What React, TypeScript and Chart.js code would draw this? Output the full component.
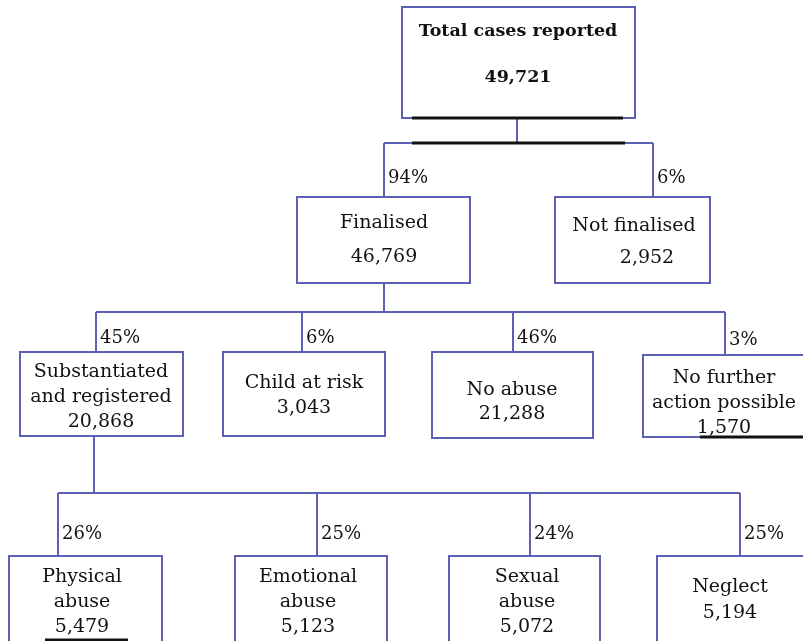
import React, { useEffect, useRef } from "react";
import { Chart, registerables } from "chart.js";

Chart.register(...registerables);

// ---- data ----
const nodeLabels = [
  "Total cases reported",
  "Finalised",
  "Not finalised",
  "Substantiated\nand registered",
  "Child at risk",
  "No abuse",
  "No further\naction possible",
  "Physical\nabuse",
  "Emotional\nabuse",
  "Sexual\nabuse",
  "Neglect",
];
const nodeValues = [49721, 46769, 2952, 20868, 3043, 21288, 1570, 5479, 5123, 5072, 5194];
const nodePercents = [null, 94, 6, 45, 6, 46, 3, 26, 25, 24, 25];
const nodeParents = [-1, 0, 0, 1, 1, 1, 1, 3, 3, 3, 3];

// ---- layout (pixel-unit scale coordinates) ----
// box: [x1, y1, x2, y2]
const boxLayout = [
  [402, 7, 635, 118],
  [297, 197, 470, 283],
  [555, 197, 710, 283],
  [20, 352, 183, 436],
  [223, 352, 385, 436],
  [432, 352, 593, 438],
  [643, 355, 815, 437],
  [9, 556, 162, 650],
  [235, 556, 387, 650],
  [449, 556, 600, 650],
  [657, 556, 815, 650],
];
// text line centres [x, y0, lineStep, valueXShift]
const textLayout = [
  [518, 31, 46, 0],
  [384, 223, 34, 0],
  [634, 226, 32, 13],
  [101, 372, 25, 0],
  [304, 383, 25, 0],
  [512, 390, 24, 0],
  [724, 378, 25, 0],
  [82, 577, 25, 0],
  [308, 577, 25, 0],
  [527, 577, 25, 0],
  [730, 587, 26, 0],
];
// connector x where each child meets its bus
const connectorX = [517, 384, 653, 96, 302, 513, 725, 58, 317, 530, 740];
// bus y below each parent (by parent index)
const busY: Record<number, number> = { 0: 143, 1: 312, 3: 493 };
// parent drop x
const dropX: Record<number, number> = { 0: 517, 1: 384, 3: 94 };

const BLUE = "#5b5fb3";
const FONT = "'DejaVu Serif', serif";

function fmt(n: number) {
  return n.toLocaleString("en-US");
}

const darkMarks = [
  [412, 118, 623],
  [412, 143, 625],
  [700, 437, 803],
  [45, 640, 128],
];

function buildDatasets() {
  const ds: any[] = [];
  const line = (pts: [number, number][], color = BLUE, width = 2) =>
    ds.push({
      data: pts.map(([x, y]) => ({ x, y })),
      showLine: true,
      borderColor: color,
      borderWidth: width,
      pointRadius: 0,
      fill: false,
    });
  const parents = Array.from(new Set(nodeParents.filter((p) => p >= 0)));
  parents.forEach((p) => {
    const kids = nodeParents.map((q, i) => (q === p ? i : -1)).filter((i) => i >= 0);
    const by = busY[p];
    line([[dropX[p], boxLayout[p][3]], [dropX[p], by]]);
    const xs = kids.map((k) => connectorX[k]);
    line([[Math.min(...xs), by], [Math.max(...xs), by]]);
    kids.forEach((k) => line([[connectorX[k], by], [connectorX[k], boxLayout[k][1]]]));
  });
  return ds;
}

const treePlugin = {
  id: "tree",
  afterDatasetsDraw(chart: any) {
    const { ctx, scales } = chart;
    const X = (v: number) => scales.x.getPixelForValue(v);
    const Y = (v: number) => scales.y.getPixelForValue(v);
    ctx.save();
    nodeLabels.forEach((label, i) => {
      const [x1, y1, x2, y2] = boxLayout[i];
      ctx.fillStyle = "#fff";
      ctx.fillRect(X(x1), Y(y1), X(x2) - X(x1), Y(y2) - Y(y1));
      ctx.strokeStyle = BLUE;
      ctx.lineWidth = 2;
      ctx.strokeRect(X(x1), Y(y1), X(x2) - X(x1), Y(y2) - Y(y1));
    });
    ctx.strokeStyle = "#111";
    ctx.lineWidth = 3;
    darkMarks.forEach(([a, y, b]) => {
      ctx.beginPath();
      ctx.moveTo(X(a), Y(y));
      ctx.lineTo(X(b), Y(y));
      ctx.stroke();
    });
    ctx.fillStyle = "#111";
    ctx.textAlign = "center";
    ctx.textBaseline = "middle";
    nodeLabels.forEach((label, i) => {
      const [tx, ty, step, vs] = textLayout[i];
      const lines = [...label.split("\n"), fmt(nodeValues[i])];
      ctx.font = i === 0 ? `bold 17.5px ${FONT}` : `19px ${FONT}`;
      lines.forEach((l, j) =>
        ctx.fillText(l, X(tx + (j === lines.length - 1 ? vs : 0)), Y(ty + j * step))
      );
    });
    ctx.textAlign = "left";
    ctx.font = `18px ${FONT}`;
    nodePercents.forEach((p, i) => {
      if (p == null) return;
      const par = nodeParents[i];
      const by = busY[par];
      const top = boxLayout[i][1];
      const y = by + (top - by) * 0.66;
      ctx.fillText(`${p}%`, X(connectorX[i] + 4), Y(y));
    });
    ctx.restore();
  },
};

export default function App() {
  const ref = useRef<HTMLCanvasElement>(null);
  useEffect(() => {
    document.body.style.margin = "0";
    const chart = new Chart(ref.current!, {
      type: "scatter",
      data: { datasets: buildDatasets() },
      options: {
        animation: false,
        responsive: false,
        maintainAspectRatio: false,
        layout: { padding: 0 },
        plugins: { legend: { display: false }, tooltip: { enabled: false } },
        scales: {
          x: { type: "linear", min: 0, max: 803, display: false },
          y: { type: "linear", min: 0, max: 641, reverse: true, display: false },
        },
      },
      plugins: [treePlugin],
    });
    return () => chart.destroy();
  }, []);
  return (
    <div style={{ position: "absolute", left: 0, top: 0, width: 803, height: 641, background: "#fff" }}>
      <canvas ref={ref} width={803} height={641} />
    </div>
  );
}
